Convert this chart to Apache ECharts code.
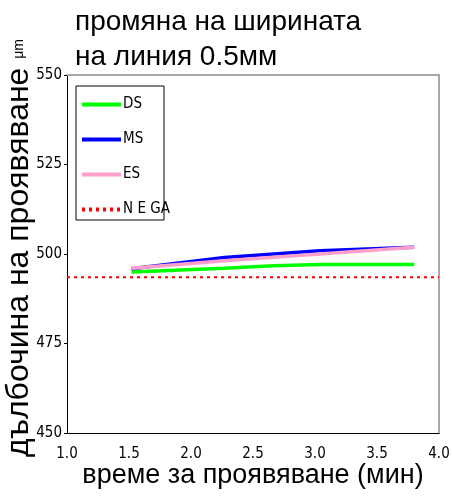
<!DOCTYPE html>
<html>
<head>
<meta charset="utf-8">
<script src="https://cdn.jsdelivr.net/npm/echarts@6/dist/echarts.min.js"></script>
<style>html,body{margin:0;padding:0;background:#fff;}#c{width:452px;height:503px;}</style>
</head>
<body>
<div id="c"></div>
<script>
// ---- data ----
const titleText = 'промяна на ширината\nна линия 0.5мм';
const xAxisName = 'време за проявяване (мин)';
const yAxisName = 'дълбочина на проявяване';
const yUnit = 'μm';
const seriesNames = ['DS', 'MS', 'ES', 'N E GA'];
const dsTime = [1.52, 2.27, 2.66, 3.04, 3.8];
const dsDepth = [495.0, 496.0, 496.7, 497.1, 497.1];
const msTime = [1.52, 2.27, 3.04, 3.8];
const msDepth = [495.9, 499.0, 500.9, 501.9];
const esTime = [1.52, 2.27, 3.04, 3.8];
const esDepth = [496.0, 498.1, 500.0, 501.9];
const negaTime = [1.0, 4.0];
const negaDepth = [493.5, 493.5];
const xTicks = [1.0, 1.5, 2.0, 2.5, 3.0, 3.5, 4.0];
const yTicks = [450, 475, 500, 525, 550];

const narrow = "'DejaVu Sans Condensed', 'Liberation Sans Narrow', sans-serif";
const sans = "'Liberation Sans', Arial, sans-serif";
const zip = (xs, ys) => xs.map((x, i) => [x, ys[i]]);

const chart = echarts.init(document.getElementById('c'), null, {renderer: 'canvas'});
chart.setOption({
  animation: false,
  backgroundColor: '#ffffff',
  title: {
    text: titleText, left: 75, top: 5, padding: 0,
    textStyle: {fontFamily: sans, fontSize: 28, fontWeight: 'normal', color: '#000', lineHeight: 35}
  },
  grid: {left: 67, right: 13, top: 75, bottom: 70, containLabel: false, outerBoundsMode: 'none'},
  legend: {
    orient: 'vertical', left: 80, top: 97, padding: 0,
    itemWidth: 39, itemHeight: 14, itemGap: 20,
    data: seriesNames,
    itemStyle: {opacity: 0},
    lineStyle: {width: 4},
    textStyle: {fontFamily: narrow, fontSize: 15, color: '#000', padding: [0, 0, 0, -3]}
  },
  graphic: [{
    type: 'rect', shape: {x: 76, y: 86, width: 88, height: 134},
    style: {fill: 'none', stroke: '#000', lineWidth: 1}, z: 10, silent: true
  }],
  xAxis: [{
    type: 'value', min: xTicks[0], max: xTicks[xTicks.length - 1], interval: 0.5,
    name: xAxisName, nameLocation: 'middle', nameGap: 29, nameMoveOverlap: false,
    nameTextStyle: {fontFamily: sans, fontSize: 27, color: '#000'},
    axisLine: {show: true, onZero: false, lineStyle: {color: '#000', width: 1}},
    axisTick: {show: false},
    splitLine: {show: false},
    axisLabel: {margin: 14, fontFamily: narrow, fontSize: 15, color: '#000', formatter: v => v.toFixed(1)}
  }, {
    type: 'value', position: 'top', min: xTicks[0], max: xTicks[xTicks.length - 1], interval: 0.5,
    axisLine: {show: true, onZero: false, lineStyle: {color: '#a8a8a8', width: 2}},
    axisTick: {show: false}, axisLabel: {show: false}, splitLine: {show: false}
  }],
  yAxis: [{
    type: 'value', min: yTicks[0], max: yTicks[yTicks.length - 1], interval: 25,
    name: '{a|' + yAxisName + ' }{b|' + yUnit + '}', nameLocation: 'middle', nameGap: 32, nameRotate: 90,
    nameMoveOverlap: false,
    nameTextStyle: {
      padding: [0, 0, 0, 12],
      rich: {
        a: {fontFamily: sans, fontSize: 32, color: '#000'},
        b: {fontFamily: sans, fontSize: 14, color: '#000'}
      }
    },
    axisLine: {show: true, onZero: false, lineStyle: {color: '#000', width: 1}},
    axisTick: {show: true, length: 3, lineStyle: {color: '#000'}},
    splitLine: {show: false},
    axisLabel: {margin: 5, fontFamily: narrow, fontSize: 15, color: '#000'}
  }, {
    type: 'value', position: 'right', min: yTicks[0], max: yTicks[yTicks.length - 1], interval: 25,
    axisLine: {show: true, onZero: false, lineStyle: {color: '#a8a8a8', width: 2}},
    axisTick: {show: false}, axisLabel: {show: false}, splitLine: {show: false}
  }],
  series: [
    {name: seriesNames[0], type: 'line', data: zip(dsTime, dsDepth), symbol: 'none',
     lineStyle: {color: '#00ff00', width: 3.5}, itemStyle: {color: '#00ff00'}, z: 3},
    {name: seriesNames[1], type: 'line', data: zip(msTime, msDepth), symbol: 'none',
     lineStyle: {color: '#0000ff', width: 3.5}, itemStyle: {color: '#0000ff'}, z: 4},
    {name: seriesNames[2], type: 'line', data: zip(esTime, esDepth), symbol: 'none',
     lineStyle: {color: '#ff9fcb', width: 3.5}, itemStyle: {color: '#ff9fcb'}, z: 5},
    {name: seriesNames[3], type: 'line', data: zip(negaTime, negaDepth), symbol: 'none',
     lineStyle: {color: '#ff0000', width: 2, type: [3, 4]}, itemStyle: {color: '#ff0000'}, z: 2}
  ]
});
</script>
</body>
</html>
